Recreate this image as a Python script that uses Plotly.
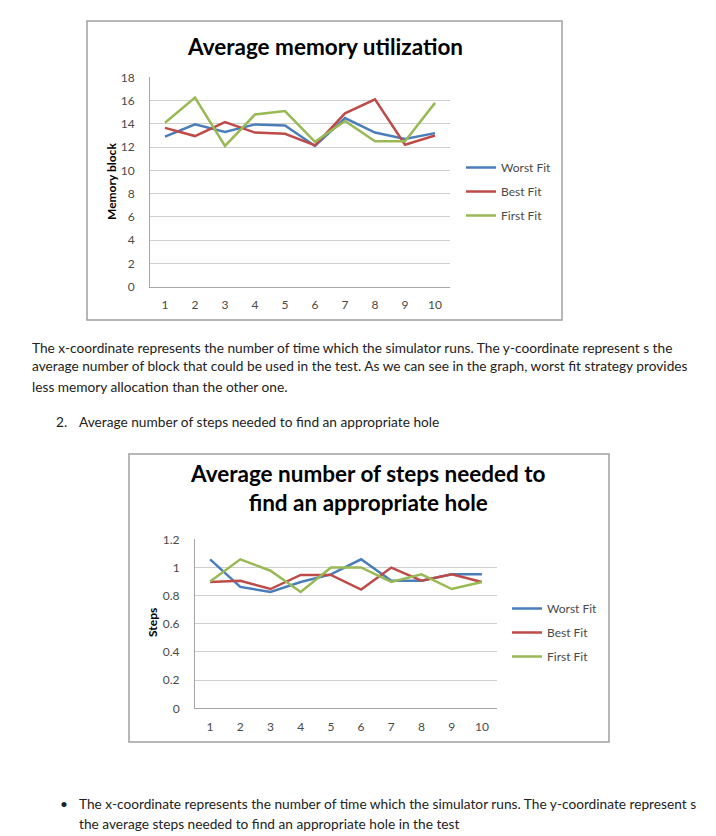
import plotly.graph_objects as go

W, H = 716, 836
runs = [1, 2, 3, 4, 5, 6, 7, 8, 9, 10]

mem_worst = [12.9, 13.95, 13.3, 13.95, 13.85, 12.1, 14.5, 13.25, 12.7, 13.2]
mem_best = [13.65, 12.95, 14.15, 13.25, 13.15, 12.15, 14.9, 16.1, 12.2, 13.0]
mem_first = [14.1, 16.25, 12.1, 14.8, 15.1, 12.45, 14.25, 12.5, 12.5, 15.8]

steps_worst = [1.058, 0.862, 0.826, 0.897, 0.951, 1.058, 0.906, 0.906, 0.951, 0.951]
steps_best = [0.897, 0.906, 0.847, 0.947, 0.947, 0.843, 0.999, 0.906, 0.951, 0.897]
steps_first = [0.9, 1.058, 0.977, 0.826, 1.0, 1.0, 0.897, 0.951, 0.847, 0.897]

series_names = ["Worst Fit", "Best Fit", "First Fit"]
colors = ["#4A7EBB", "#BE4B48", "#98B954"]

FONT = "Lato"
TICK_COLOR = "#4a4a4a"
OFF = 8  # page body margin compensation


def px_x(p):
    return (p - OFF) / W


def px_y(p):
    return 1 - (p - OFF) / H


fig = go.Figure()

for name, vals, col in zip(series_names, [mem_worst, mem_best, mem_first], colors):
    fig.add_trace(go.Scatter(x=runs, y=vals, mode="lines", name=name,
                             line=dict(color=col, width=2.5),
                             xaxis="x", yaxis="y", legend="legend",
                             legendgroup="a" + name))
for name, vals, col in zip(series_names, [steps_worst, steps_best, steps_first], colors):
    fig.add_trace(go.Scatter(x=runs, y=vals, mode="lines", name=name,
                             line=dict(color=col, width=2.5),
                             xaxis="x2", yaxis="y2", legend="legend2",
                             legendgroup="b" + name))

tickfont = dict(family=FONT, size=12, color=TICK_COLOR)
ytitle_font = dict(family=FONT, size=12, color="#000")

xcommon = dict(range=[0.5, 10.5], tickvals=runs, showline=True, linecolor="#a6a6a6",
               linewidth=1, showgrid=False, zeroline=False, ticks="", tickfont=tickfont,
               ticklabelstandoff=7, automargin=False)
ycommon = dict(showgrid=True, gridcolor="#cfcfcf", gridwidth=1, zeroline=False,
               showline=True, linecolor="#a6a6a6", linewidth=1, ticks="",
               tickfont=tickfont, ticklabelstandoff=12, automargin=False)

fig.update_layout(
    width=W, height=H,
    margin=dict(l=0, r=0, t=0, b=0, autoexpand=False),
    paper_bgcolor="white", plot_bgcolor="white",
    xaxis=dict(domain=[px_x(150), px_x(450)], anchor="y", **xcommon),
    yaxis=dict(domain=[px_y(286.7), px_y(77.3)], range=[0, 18], dtick=2,
               anchor="x", **ycommon),
    xaxis2=dict(domain=[px_x(195), px_x(497)], anchor="y2", **xcommon),
    yaxis2=dict(domain=[px_y(708.3), px_y(539.3)], range=[0, 1.2], dtick=0.2,
                anchor="x2", **ycommon),
    legend=dict(x=px_x(461), y=px_y(153), xanchor="left", yanchor="top",
                font=dict(family=FONT, size=12, color=TICK_COLOR),
                tracegroupgap=5, bgcolor="rgba(0,0,0,0)"),
    legend2=dict(x=px_x(507), y=px_y(594), xanchor="left", yanchor="top",
                 font=dict(family=FONT, size=12, color=TICK_COLOR),
                 tracegroupgap=5, bgcolor="rgba(0,0,0,0)"),
    showlegend=True,
)

# chart frames
fig.add_shape(type="rect", xref="paper", yref="paper",
              x0=px_x(87), x1=px_x(562), y0=px_y(320), y1=px_y(21),
              line=dict(color="#a0a0a0", width=1.5), layer="below")
fig.add_shape(type="rect", xref="paper", yref="paper",
              x0=px_x(129), x1=px_x(609), y0=px_y(742), y1=px_y(454),
              line=dict(color="#a0a0a0", width=1.5), layer="below")

# y-axis titles
fig.add_annotation(text="<b>Memory block</b>", x=px_x(111), y=px_y(182),
                   xref="paper", yref="paper", showarrow=False, textangle=-90,
                   xanchor="center", yanchor="middle", font=ytitle_font)
fig.add_annotation(text="<b>Steps</b>", x=px_x(152), y=px_y(623),
                   xref="paper", yref="paper", showarrow=False, textangle=-90,
                   xanchor="center", yanchor="middle", font=ytitle_font)

# chart titles
fig.add_annotation(text="<b>Average memory utilization</b>", x=px_x(325), y=px_y(47),
                   xref="paper", yref="paper", showarrow=False,
                   xanchor="center", yanchor="middle",
                   font=dict(family=FONT, size=22.5, color="#000"))
fig.add_annotation(text="<b>Average number of steps needed to<br>find an appropriate hole</b>",
                   x=px_x(368), y=px_y(488), xref="paper", yref="paper", showarrow=False,
                   xanchor="center", yanchor="middle",
                   font=dict(family=FONT, size=22.5, color="#000"))

BODY = dict(family=FONT, size=13.7, color="#222")
body_lines = [
    (30, 347, "The x-coordinate represents the number of time which the simulator runs. The y-coordinate represent s the"),
    (30, 366, "average number of block that could be used in the test. As we can see in the graph, worst fit strategy provides"),
    (30, 386, "less memory allocation than the other one."),
    (54, 421, "2."),
    (77, 421, "Average number of steps needed to find an appropriate hole"),
    (58, 803, "•"),
    (77, 803, "The x-coordinate represents the number of time which the simulator runs. The y-coordinate represent s"),
    (77, 823, "the average steps needed to find an appropriate hole in the test"),
]
for x, y, t in body_lines:
    fig.add_annotation(text=t, x=px_x(x), y=px_y(y), xref="paper", yref="paper",
                       xanchor="left", yanchor="middle", showarrow=False, font=BODY)

fig.write_html("out.html")
